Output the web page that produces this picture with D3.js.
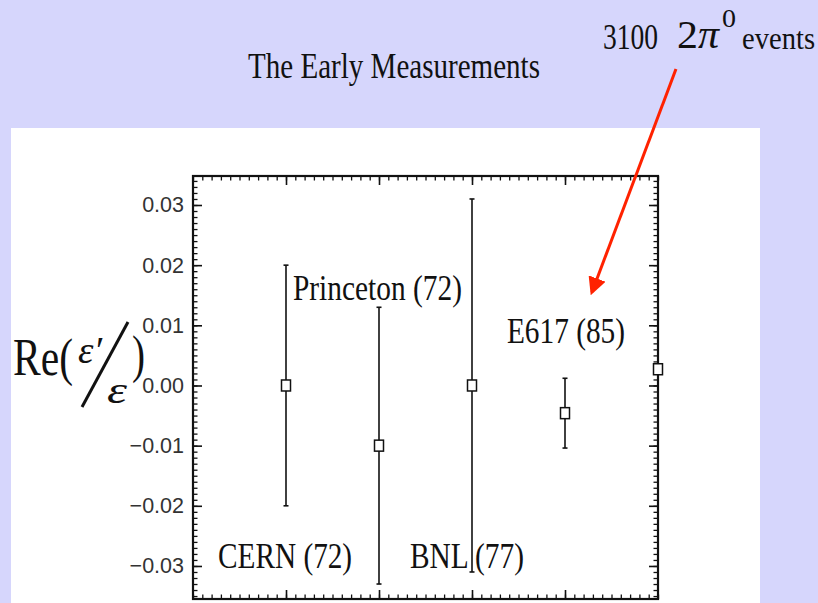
<!DOCTYPE html>
<html>
<head>
<meta charset="utf-8">
<script src="https://cdn.jsdelivr.net/npm/d3@7"></script>
<style>
  html, body { margin: 0; padding: 0; background: #d6d6fc; }
  svg { display: block; }
</style>
</head>
<body>
<svg id="chart" width="818" height="603"></svg>
<script>
// Early measurements of Re(eps'/eps)
const experiments = ["CERN (72)", "Princeton (72)", "BNL (77)", "E617 (85)", ""];
const xSlot       = [1, 2, 3, 4, 5];
const central     = [0.000, -0.010, 0.000, -0.0046, 0.0027];
const uncertainty = [0.020, 0.023, 0.031, 0.0058, 0];
const yTickValues = [-0.03, -0.02, -0.01, 0.00, 0.01, 0.02, 0.03];
const xTickValues = [1, 2, 3, 4];

// label anchors in data units (left edge, baseline)
const labelX = [0.27, 1.075, 2.333, 3.376];
const labelY = [-0.0303, 0.0142, -0.0303, 0.0071];
const labelW = [134, 169, 114, 118];

const svg = d3.select("#chart");
const W = 818, H = 603;

svg.append("rect").attr("width", W).attr("height", H).attr("fill", "#d6d6fc");
svg.append("rect").attr("x", 11).attr("y", 128).attr("width", 749).attr("height", H - 128).attr("fill", "#ffffff");

const frame = { left: 193, right: 658, top: 176, bottom: 599 };
const x = d3.scaleLinear().domain([0, 5]).range([frame.left, frame.right]);
const y = d3.scaleLinear().domain([-0.03549, 0.03482]).range([frame.bottom, frame.top]);

const serif = "'Liberation Serif', 'Times New Roman', serif";
const sans = "'Liberation Sans', Arial, sans-serif";

// minor ticks
const yMinor = d3.range(-35, 35).map(d => d / 1000).filter(v => v >= y.domain()[0] && v <= y.domain()[1]);
const xMinor = d3.range(0, 51).map(d => d / 10);

const g = svg.append("g");

// left axis with labels (ticks inward)
const leftAxis = g.append("g").attr("transform", `translate(${frame.left},0)`)
  .call(d3.axisLeft(y).tickValues(yTickValues).tickSize(-9).tickPadding(9).tickFormat(d3.format(".2f")));
leftAxis.select(".domain").remove();
leftAxis.selectAll("line").attr("stroke", "#111").attr("stroke-width", 1.6);
leftAxis.selectAll("text").attr("font-family", sans).attr("font-size", 21.5).attr("fill", "#333");

const leftMinor = g.append("g").attr("transform", `translate(${frame.left},0)`)
  .call(d3.axisLeft(y).tickValues(yMinor).tickSize(-4.5).tickFormat(""));
leftMinor.select(".domain").remove();
leftMinor.selectAll("line").attr("stroke", "#111").attr("stroke-width", 1.3);

const rightAxis = g.append("g").attr("transform", `translate(${frame.right},0)`)
  .call(d3.axisRight(y).tickValues(yTickValues).tickSize(-9).tickFormat(""));
rightAxis.select(".domain").remove();
rightAxis.selectAll("line").attr("stroke", "#111").attr("stroke-width", 1.6);
const rightMinor = g.append("g").attr("transform", `translate(${frame.right},0)`)
  .call(d3.axisRight(y).tickValues(yMinor).tickSize(-4.5).tickFormat(""));
rightMinor.select(".domain").remove();
rightMinor.selectAll("line").attr("stroke", "#111").attr("stroke-width", 1.3);

[["top", frame.top, d3.axisTop], ["bottom", frame.bottom, d3.axisBottom]].forEach(([, pos, axisFn]) => {
  const maj = g.append("g").attr("transform", `translate(0,${pos})`)
    .call(axisFn(x).tickValues(xTickValues).tickSize(-9).tickFormat(""));
  maj.select(".domain").remove();
  maj.selectAll("line").attr("stroke", "#111").attr("stroke-width", 1.6);
  const mnr = g.append("g").attr("transform", `translate(0,${pos})`)
    .call(axisFn(x).tickValues(xMinor).tickSize(-4.5).tickFormat(""));
  mnr.select(".domain").remove();
  mnr.selectAll("line").attr("stroke", "#111").attr("stroke-width", 1.3);
});

// frame
svg.append("rect")
  .attr("x", frame.left).attr("y", frame.top)
  .attr("width", frame.right - frame.left).attr("height", frame.bottom - frame.top)
  .attr("fill", "none").attr("stroke", "#111").attr("stroke-width", 2.2);

// error bars and markers
const pts = svg.append("g");
const data = central.map((v, i) => ({ x: xSlot[i], v, e: uncertainty[i] }));
data.filter(d => d.e > 0).forEach(d => {
  const cx = x(d.x);
  pts.append("line").attr("x1", cx).attr("x2", cx).attr("y1", y(d.v + d.e)).attr("y2", y(d.v - d.e))
    .attr("stroke", "#111").attr("stroke-width", 1.6);
  [d.v + d.e, d.v - d.e].forEach(t => {
    pts.append("line").attr("x1", cx - 2.5).attr("x2", cx + 2.5).attr("y1", y(t)).attr("y2", y(t))
      .attr("stroke", "#111").attr("stroke-width", 1.6);
  });
});
data.forEach(d => {
  pts.append("rect").attr("x", x(d.x) - 4.5).attr("y", y(d.v) - 5.5).attr("width", 9).attr("height", 11)
    .attr("fill", "#fff").attr("stroke", "#111").attr("stroke-width", 1.5);
});

// experiment labels
experiments.slice(0, 4).forEach((name, i) => {
  svg.append("text")
    .attr("x", x(labelX[i])).attr("y", y(labelY[i]))
    .attr("font-family", serif).attr("font-size", 36).attr("fill", "#111")
    .attr("textLength", labelW[i]).attr("lengthAdjust", "spacingAndGlyphs")
    .text(name);
});

// title
svg.append("text").attr("x", 248).attr("y", 78)
  .attr("font-family", serif).attr("font-size", 35).attr("fill", "#111")
  .attr("textLength", 292).attr("lengthAdjust", "spacingAndGlyphs")
  .text("The Early Measurements");

// annotation: 3100 2π⁰ events
svg.append("text").attr("x", 603).attr("y", 49)
  .attr("font-family", serif).attr("font-size", 35).attr("fill", "#111")
  .attr("textLength", 55).attr("lengthAdjust", "spacingAndGlyphs").text("3100");
svg.append("text").attr("x", 677).attr("y", 48)
  .attr("font-family", serif).attr("font-size", 40).attr("fill", "#111")
  .attr("textLength", 42).attr("lengthAdjust", "spacingAndGlyphs")
  .html('2<tspan font-style="italic">π</tspan>');
svg.append("text").attr("x", 722).attr("y", 27)
  .attr("font-family", serif).attr("font-size", 25).attr("fill", "#111")
  .attr("textLength", 14).attr("lengthAdjust", "spacingAndGlyphs").text("0");
svg.append("text").attr("x", 742).attr("y", 49)
  .attr("font-family", serif).attr("font-size", 32).attr("fill", "#111")
  .attr("textLength", 73).attr("lengthAdjust", "spacingAndGlyphs").text("events");

// arrow
svg.append("defs").append("marker")
  .attr("id", "head").attr("viewBox", "0 0 10 10").attr("refX", 8).attr("refY", 5)
  .attr("markerWidth", 6).attr("markerHeight", 6).attr("orient", "auto")
  .append("path").attr("d", "M0,0 L10,5 L0,10 Z").attr("fill", "#ff2200");
svg.append("line").attr("x1", 676).attr("y1", 69).attr("x2", 592).attr("y2", 292)
  .attr("stroke", "#ff2200").attr("stroke-width", 3).attr("marker-end", "url(#head)");

// y-axis title Re(ε'/ε)
const yt = svg.append("g").attr("fill", "#111").attr("font-family", serif);
yt.append("text").attr("x", 13).attr("y", 375).attr("font-size", 53)
  .attr("textLength", 60).attr("lengthAdjust", "spacingAndGlyphs").text("Re(");
yt.append("text").attr("x", 78).attr("y", 363).attr("font-size", 38).attr("font-style", "italic")
  .attr("textLength", 24).attr("lengthAdjust", "spacingAndGlyphs").text("ε′");
yt.append("line").attr("x1", 128).attr("y1", 322).attr("x2", 82).attr("y2", 407)
  .attr("stroke", "#111").attr("stroke-width", 3);
yt.append("text").attr("x", 107).attr("y", 403).attr("font-size", 38).attr("font-style", "italic")
  .attr("textLength", 20).attr("lengthAdjust", "spacingAndGlyphs").text("ε");
yt.append("text").attr("x", 132).attr("y", 372).attr("font-size", 53)
  .attr("textLength", 13).attr("lengthAdjust", "spacingAndGlyphs").text(")");
</script>
</body>
</html>
